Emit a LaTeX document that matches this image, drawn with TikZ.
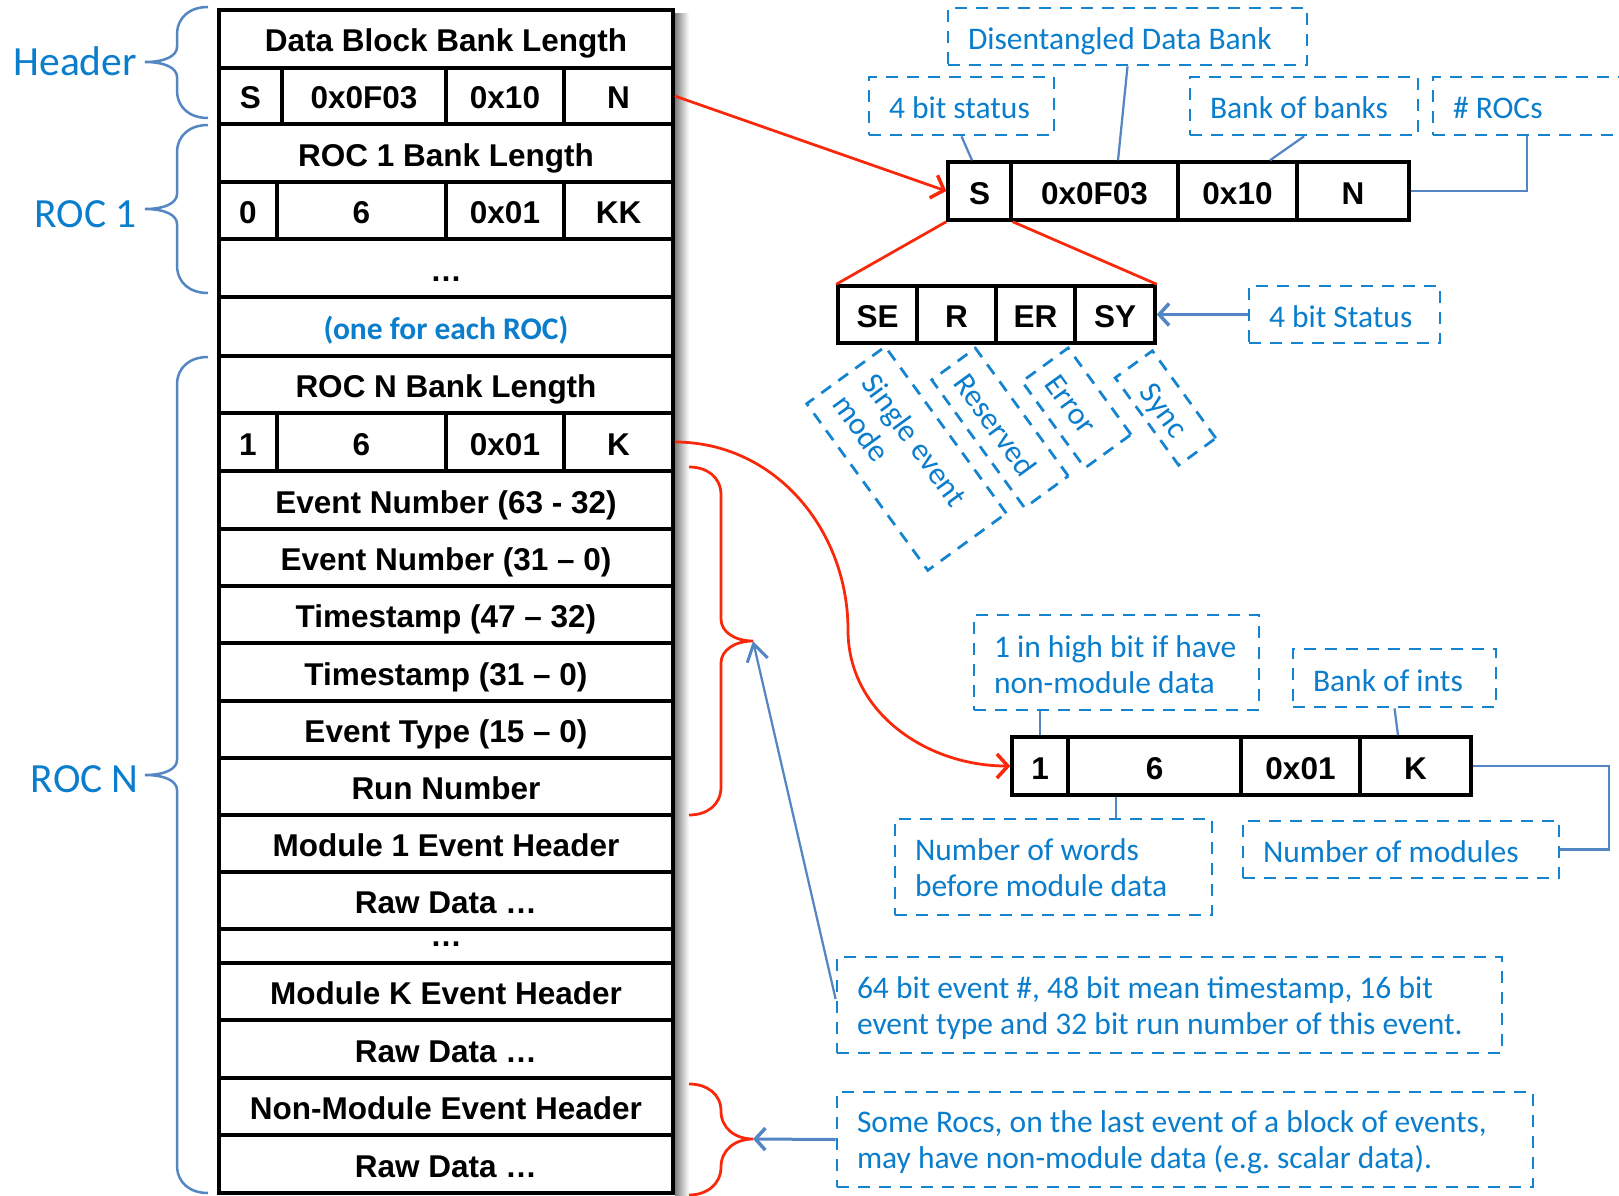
\documentclass[tikz,border=0pt]{standalone}
\usepackage{fontspec}
\setmainfont{Carlito}
\newfontfamily\arl{Liberation Sans}
\usetikzlibrary{arrows.meta}
\definecolor{tblue}{RGB}{10,125,205}
\definecolor{dblue}{RGB}{20,132,208}
\definecolor{sblue}{RGB}{84,134,196}
\definecolor{ared}{RGB}{250,40,10}
\newcommand\dbfont{\fontsize{31.5}{36}\selectfont}
\newcommand\dbsp{\spaceskip=7.1pt plus 2pt minus 1pt\xspaceskip=7.1pt plus 2pt minus 1pt\relax}
\newcommand\lbfont{\fontsize{41.5}{48}\selectfont\spaceskip=9.4pt plus 2pt minus 1pt\relax}
\newcommand\xcell[7][]{%
  \pgfmathsetmacro\myW{#4-#3}\pgfmathsetmacro\myH{#6-#5}%
  \pgfmathsetmacro\myX{(#3+#4)/2}\pgfmathsetmacro\myY{(#5+#6)/2}%
  \node[cell,minimum width=\myW pt,minimum height=\myH pt,#1] (#2) at (\myX,\myY) {#7};}
\newcommand\xdbox[7][]{%
  \pgfmathsetmacro\myW{#4-#3}\pgfmathsetmacro\myH{#6-#5}\pgfmathsetmacro\myT{#4-#3-40}%
  \pgfmathsetmacro\myX{(#3+#4)/2}\pgfmathsetmacro\myY{(#5+#6)/2}%
  \node[dbox,minimum width=\myW pt,minimum height=\myH pt,text width=\myT pt,#1] (#2) at (\myX,\myY) {\dbsp#7};}
\begin{document}
\begin{tikzpicture}[x=1pt,y=-1pt,
  cell/.style={draw=black,line width=3.5pt,fill=white,inner sep=0pt,
    font=\arl\bfseries\fontsize{31.5}{36}\selectfont,text height=26pt,text depth=0pt},
  dbox/.style={draw=dblue,line width=2.75pt,dash pattern=on 12pt off 9pt,
    inner xsep=20pt,inner ysep=0pt,align=left,text=tblue,font=\dbfont,
    text height=25pt,text depth=0pt},
  twoline/.style={text height=22pt,text depth=36pt},
  lbl/.style={text=tblue,font=\lbfont,inner sep=0pt,anchor=base east},
  lbrace/.style={draw=sblue,line width=2.5pt},
  rline/.style={draw=ared,line width=2.75pt},
  conn/.style={draw=sblue,line width=2.25pt},
  barb/.style={-{Straight Barb[length=10pt,width=22pt,line width=3.5pt]}},
  barbthin/.style={-{Straight Barb[length=17pt,width=21pt,line width=3pt]}},
  rbarb/.style={-{Straight Barb[length=11pt,width=24pt,line width=3.5pt]}}
]
\clip (0,0) rectangle (1619,1196);
\fill[white] (0,0) rectangle (1619,1196);
% shadow of the table
\shade[left color=black!50,right color=white] (675,14) rectangle (689,1196);
% main table
\xcell{r1}{219}{673}{10}{68}{Data Block Bank Length}
\xcell{r2a}{219}{282}{68}{124}{S}
\xcell{r2b}{282}{446}{68}{124}{0x0F03}
\xcell{r2c}{446}{564}{68}{124}{0x10}
\xcell{r2d}{564}{673}{68}{124}{N}
\xcell{r3}{219}{673}{124}{182}{ROC 1 Bank Length}
\xcell{r4a}{219}{277}{182}{239}{0}
\xcell{r4b}{277}{446}{182}{239}{6}
\xcell{r4c}{446}{564}{182}{239}{0x01}
\xcell{r4d}{564}{673}{182}{239}{KK}
\xcell{r5}{219}{673}{239}{297}{…}
\xcell[font=\bfseries\fontsize{31.5}{36}\selectfont,text=tblue]{r6}{219}{673}{297}{356}{(one for each ROC)}
\xcell{r7}{219}{673}{356}{413}{ROC N Bank Length}
\xcell{r8a}{219}{277}{413}{471}{1}
\xcell{r8b}{277}{446}{413}{471}{6}
\xcell{r8c}{446}{564}{413}{471}{0x01}
\xcell{r8d}{564}{673}{413}{471}{K}
\xcell{r9}{219}{673}{471}{529}{Event Number (63 - 32)}
\xcell{r10}{219}{673}{529}{586}{Event Number (31 – 0)}
\xcell{r11}{219}{673}{586}{643}{Timestamp (47 – 32)}
\xcell{r12}{219}{673}{643}{701}{Timestamp (31 – 0)}
\xcell{r13}{219}{673}{701}{758}{Event Type (15 – 0)}
\xcell{r14}{219}{673}{758}{815}{Run Number}
\xcell{r15}{219}{673}{815}{872}{Module 1 Event Header}
\xcell{r16}{219}{673}{872}{929}{Raw Data …}
\xcell[text height=0pt]{r17}{219}{673}{929}{963}{…}
\xcell{r18}{219}{673}{963}{1020}{Module K Event Header}
\xcell{r19}{219}{673}{1020}{1078}{Raw Data …}
\xcell{r20}{219}{673}{1078}{1135}{Non-Module Event Header}
\xcell{r21}{219}{673}{1135}{1193}{Raw Data …}
% left labels and braces
\node[lbl] (lh) at (137,76) {Header};
\node[lbl] (lr1) at (137,227) {ROC 1};
\node[lbl] (lrn) at (139,792) {ROC N};
\draw[lbrace] (208,7) .. controls (190,7) and (177,17) .. (177,35) -- (177,47)
  .. controls (177,56) and (165,62) .. (145,62) .. controls (165,62) and (177,68) .. (177,77)
  -- (177,90) .. controls (177,108) and (190,118) .. (208,118);
\draw[lbrace] (208,125) .. controls (190,125) and (177,135) .. (177,153) -- (177,194)
  .. controls (177,203) and (165,209) .. (145,209) .. controls (165,209) and (177,215) .. (177,224)
  -- (177,265) .. controls (177,283) and (190,293) .. (208,293);
\draw[lbrace] (208,357) .. controls (190,357) and (177,367) .. (177,385) -- (177,760)
  .. controls (177,769) and (165,775) .. (145,775) .. controls (165,775) and (177,781) .. (177,790)
  -- (177,1165) .. controls (177,1183) and (190,1193) .. (208,1193);
% disentangled data bank
\xcell{dS}{948}{1011}{162}{220}{S}
\xcell{dF}{1011}{1178}{162}{220}{0x0F03}
\xcell{dX}{1178}{1297}{162}{220}{0x10}
\xcell{dN}{1297}{1409}{162}{220}{N}
% status bits
\xcell{sSE}{838}{917}{286}{343}{SE}
\xcell{sR}{917}{996}{286}{343}{R}
\xcell{sER}{996}{1075}{286}{343}{ER}
\xcell{sSY}{1075}{1155}{286}{343}{SY}
% ROC bank header
\xcell{b1}{1012}{1068}{737}{795}{1}
\xcell{b6}{1068}{1241}{737}{795}{6}
\xcell{b01}{1241}{1360}{737}{795}{0x01}
\xcell{bK}{1360}{1471}{737}{795}{K}
% dashed annotation boxes
\xdbox[text height=27pt]{dis}{948}{1307}{8}{65}{\mbox{Disentangled Data Bank}}
\xdbox{st4}{869}{1054}{77}{135}{\mbox{4 bit status}}
\xdbox{bob}{1190}{1418}{77}{135}{\mbox{Bank of banks}}
\xdbox{rocs}{1433}{1660}{77}{135}{\mbox{\# ROCs}}
\xdbox{st4b}{1249}{1440}{286}{343}{\mbox{4 bit Status}}
\xdbox[twoline,text height=24pt,text depth=34pt]{hb}{974}{1259}{615}{710}{\mbox{1 in high bit if have}\\\mbox{non-module data}}
\xdbox[text height=27pt]{boi}{1293}{1496}{649}{707}{\mbox{Bank of ints}}
\xdbox[twoline]{nw}{895}{1212}{819}{915}{\mbox{Number of words}\\\mbox{before module data}}
\xdbox{nm}{1243}{1559}{821}{878}{\mbox{Number of modules}}
\xdbox[twoline]{eb}{837}{1502}{957}{1053}{\mbox{64 bit event \#, 48 bit mean timestamp, 16 bit}\\\mbox{event type and 32 bit run number of this event.}}
\xdbox[twoline]{sr}{837}{1533}{1092}{1187}{\mbox{Some Rocs, on the last event of a block of events,}\\\mbox{may have non-module data (e.g. scalar data).}}
% rotated bit descriptions
\node[dbox,twoline,rotate=-54,minimum width=206pt,minimum height=97pt,text width=176pt,inner xsep=15pt] (rse) at (906.5,458.5) {\dbsp\mbox{Single event}\\\mbox{mode}};
\node[dbox,rotate=-54,minimum width=158pt,minimum height=54pt,text width=128pt,inner xsep=15pt] (rre) at (1000,428) {\mbox{Reserved}};
\node[dbox,rotate=-54,minimum width=107pt,minimum height=57pt,text width=77pt,inner xsep=15pt] (rer) at (1076.5,408) {\mbox{Error}};
\node[dbox,rotate=-54,minimum width=108pt,minimum height=46pt,text width=68pt,inner xsep=20pt] (rsy) at (1165.5,408) {\mbox{\hspace{6pt}Sync}};
% red braces
\draw[rline] (689,467) .. controls (707,467) and (721,477) .. (721,495) -- (721,619)
  .. controls (721,632) and (735,641) .. (753,641) .. controls (735,641) and (721,650) .. (721,663)
  -- (721,787) .. controls (721,805) and (707,815) .. (689,815);
\draw[rline] (689,1084) .. controls (707,1084) and (721,1094) .. (721,1111)
  .. controls (721,1128) and (735,1139) .. (753,1139) .. controls (735,1139) and (721,1150) .. (721,1167)
  .. controls (721,1184) and (707,1195) .. (689,1195);
\coordinate (tipA) at (753,641);
\coordinate (tipB) at (753,1139);
\coordinate (rc) at (848,630);
% red connectors
\draw[rline,rbarb] (r2d.east) -- (dS.west);
\draw[rline] (dS.south west) -- (sSE.north west);
\draw[rline] (dS.south east) -- (sSY.north east);
\draw[rline,rbarb] (r8d.east) to[out=0,in=90] (rc) to[out=-90,in=180] (b1.west);
% blue connectors
\draw[conn] (dis.south) -- ([xshift=23.5pt]dF.north);
\draw[conn] (st4.south) -- ([xshift=-7.5pt]dS.north);
\draw[conn] (bob.south) -- ([xshift=32.5pt]dX.north);
\draw[conn] (dN.east) -| ([xshift=95pt]rocs.south west);
\draw[conn,line width=3pt,barb] (st4b.west) -- (sSY.east);
\draw[conn] (b1.north) -- (b1.north |- hb.south);
\draw[conn] (boi.south) -- ([xshift=-17.5pt]bK.north);
\draw[conn] ([xshift=-38.5pt]b6.south) -- ([xshift=-38.5pt]b6.south |- nw.north);
\draw[conn] (bK.east) -- ++(136,0) |- (nm.east);
\draw[conn,barbthin] ([yshift=6pt]eb.west) -- (tipA);
\draw[conn,line width=3pt,barb] (sr.west) -- (tipB);
\end{tikzpicture}
\end{document}
